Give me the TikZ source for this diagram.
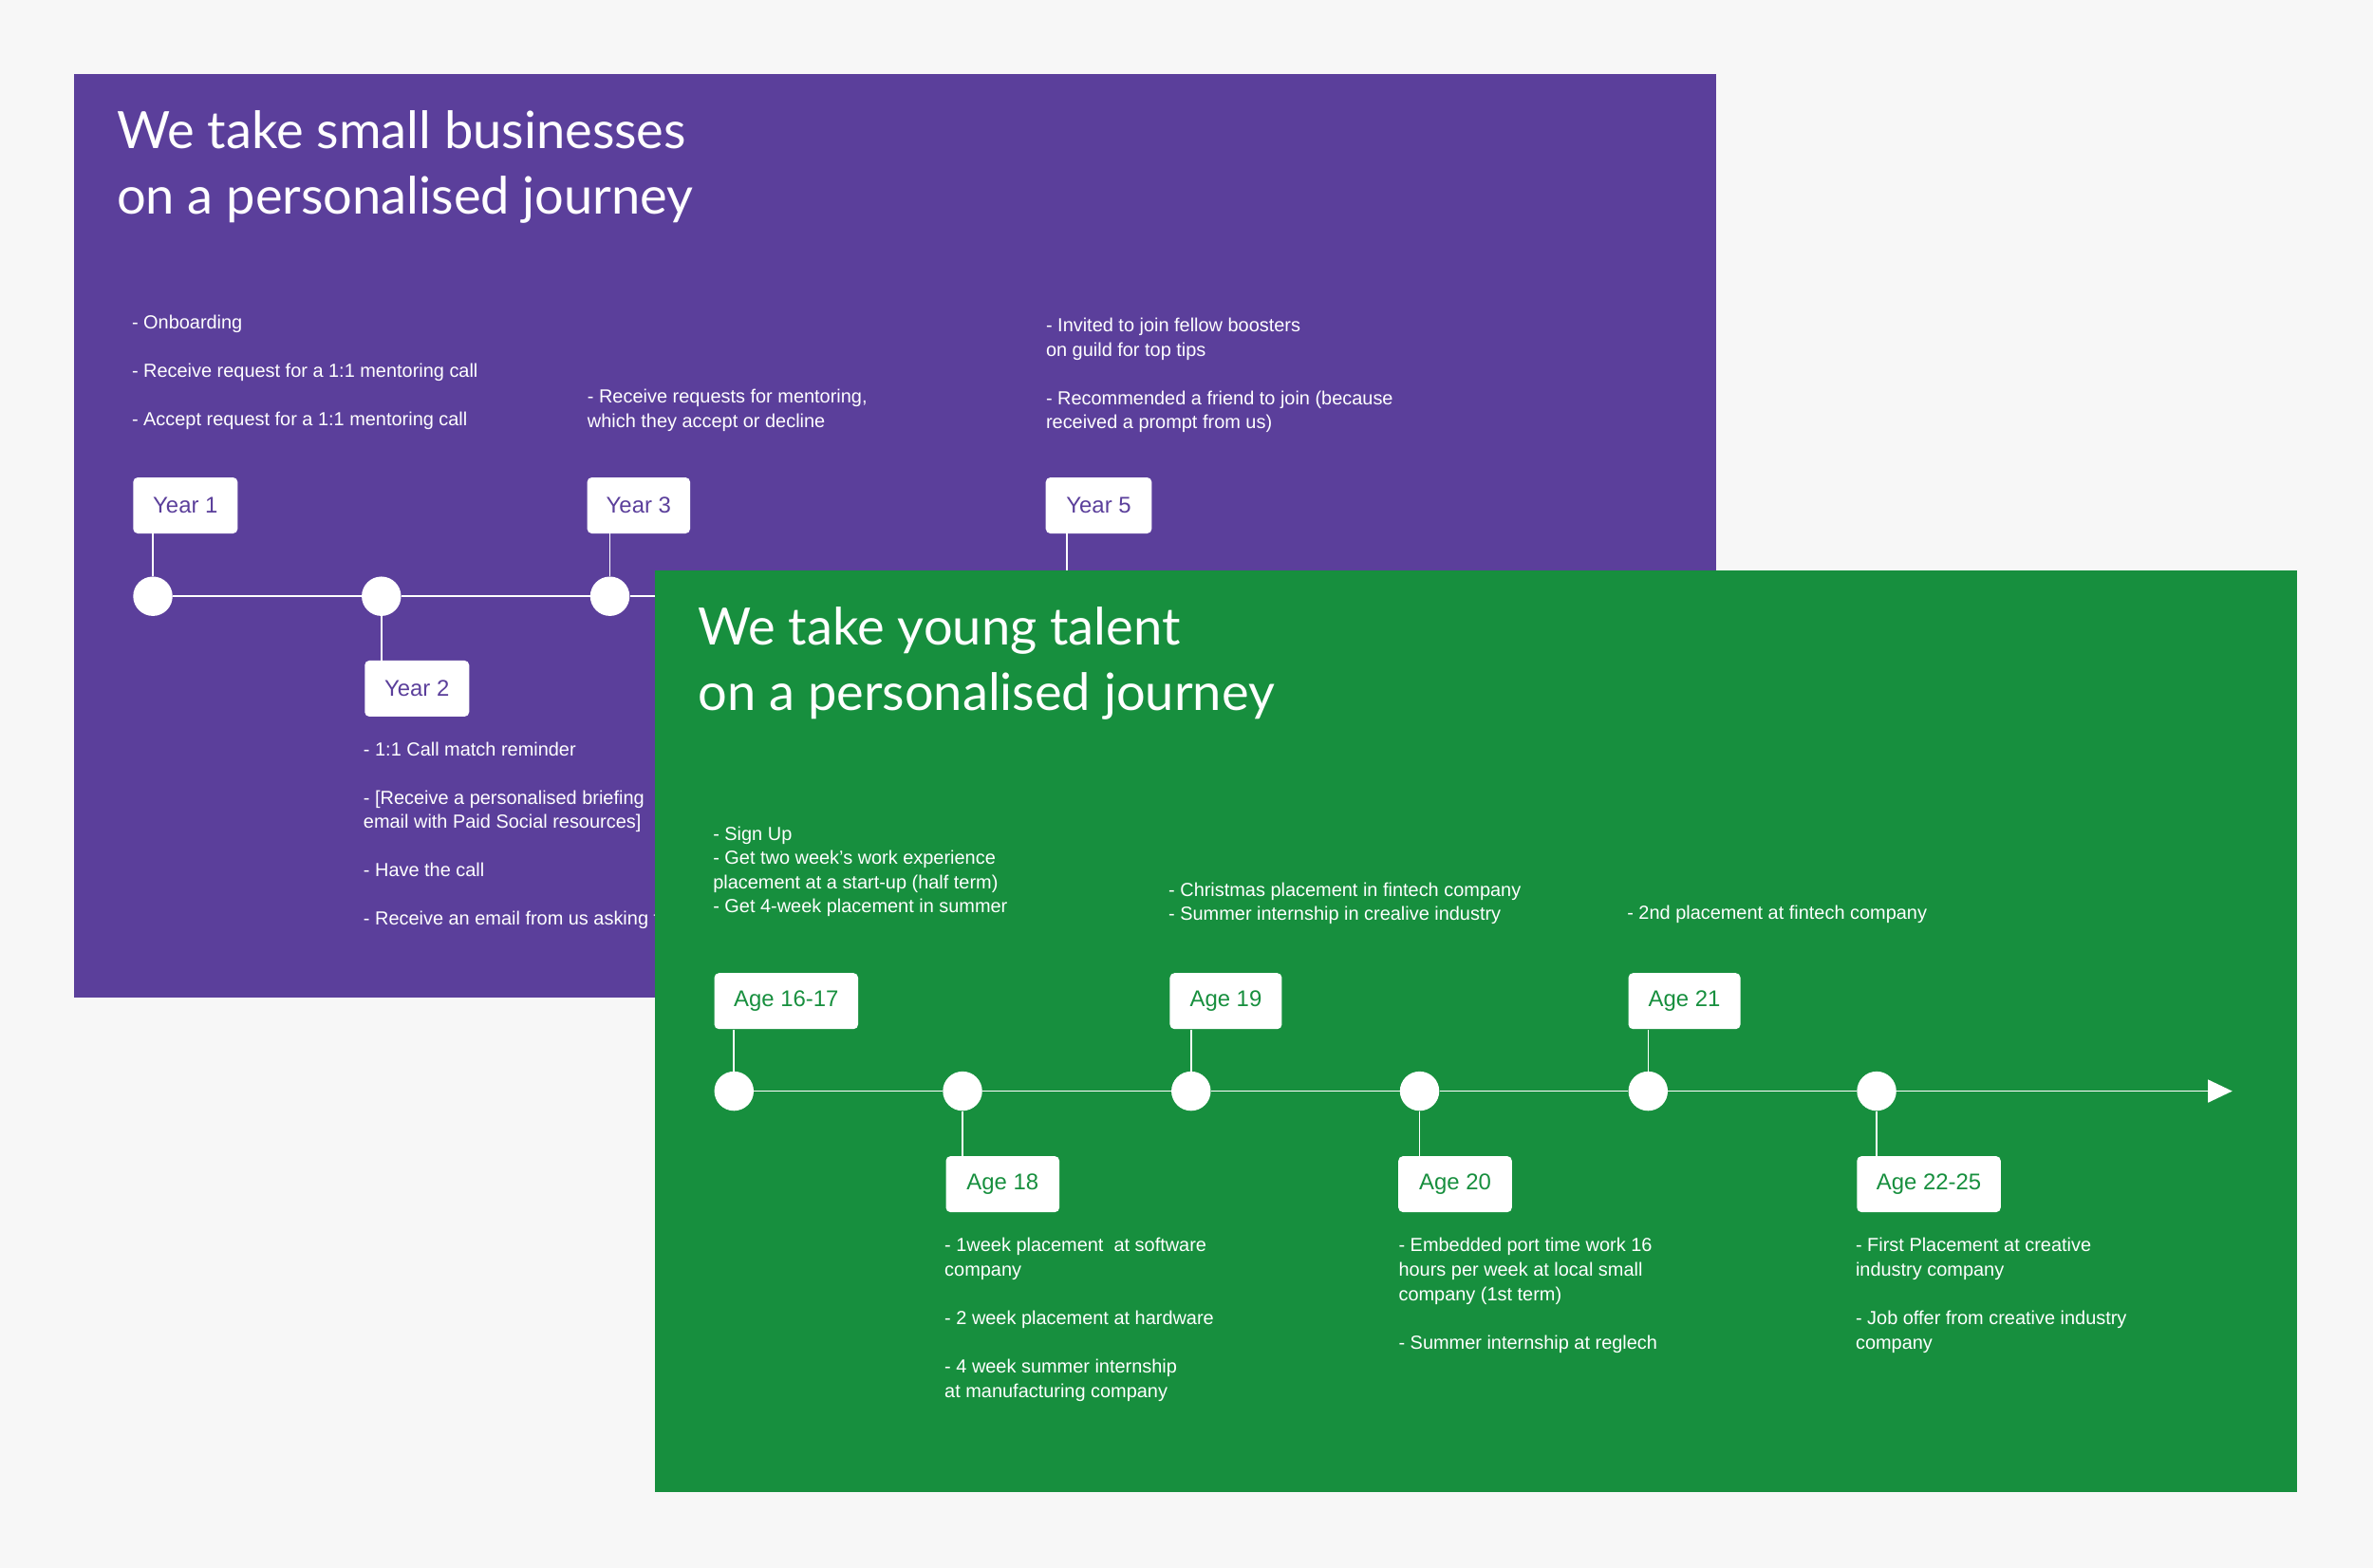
\documentclass[tikz,border=0pt]{standalone}
\usepackage{fontspec}
\setmainfont{Liberation Sans}
\newfontfamily\titlefont{Lato}
\usetikzlibrary{arrows.meta}
\definecolor{bg}{HTML}{F7F7F7}
\definecolor{purp}{HTML}{5B3F9B}
\definecolor{grn}{HTML}{178F3E}
\tikzset{
 dot/.style={circle,fill=white,minimum size=26pt,inner sep=0},
 yearbox/.style={draw=none,fill=white,rounded corners=3pt,minimum height=37pt,inner sep=0,font=\fontsize{15}{18}\selectfont},
 txt/.style={anchor=north west,inner sep=0,text=white,align=left,font=\fontsize{12.5}{16}\selectfont},
 ttl/.style={anchor=north west,inner sep=0,text=white,align=left,font=\titlefont\fontsize{34}{43}\selectfont},
 tl/.style={white,line width=1pt}
}
\begin{document}
\begin{tikzpicture}[x=1pt,y=-1pt]
\fill[bg] (0,0) rectangle (1568,1036);
\useasboundingbox (0,0) rectangle (1568,1036);
% purple panel
\fill[purp] (49,49) rectangle (1134,659);
\node[ttl] (pt) at (77,73) {We take small businesses\\on a personalised journey};
\coordinate (pe) at (700,394);
\node[dot] (p1) at (101,394) {};
\node[dot] (p2) at (252,394) {};
\node[dot] (p3) at (403,394) {};
\node[dot] (p4) at (554,394) {};
\draw[tl] (p1)--(p2) (p2)--(p3) (p3)--(p4) (p4)--(pe);
\node[yearbox,text=purp,minimum width=69pt] (y1) at (122.5,334) {Year 1};
\node[yearbox,text=purp,minimum width=69pt] (y2) at (275.5,455) {Year 2};
\node[yearbox,text=purp,minimum width=68pt] (y3) at (422,334) {Year 3};
\node[yearbox,text=purp,minimum width=70pt] (y5) at (726,334) {Year 5};
\coordinate (y5e) at (705,390);
\draw[tl] (p1) -- (p1|-y1.south);
\draw[tl] (p2) -- (p2|-y2.north);
\draw[tl] (p3) -- (p3|-y3.south);
\draw[tl] (y5e) -- (y5e|-y5.south);
\node[txt] (pa) at (87,208) {- Onboarding\\[16pt]- Receive request for a 1:1 mentoring call\\[16pt]- Accept request for a 1:1 mentoring call};
\node[txt] (pb) at (388,257) {- Receive requests for mentoring,\\which they accept or decline};
\node[txt] (pc) at (691,210) {- Invited to join fellow boosters\\on guild for top tips\\[16pt]- Recommended a friend to join (because\\received a prompt from us)};
\node[txt] (pd) at (240,490) {- 1:1 Call match reminder\\[16pt]- [Receive a personalised briefing\\email with Paid Social resources]\\[16pt]- Have the call\\[16pt]- Receive an email from us asking for feedback};
% green panel
\fill[grn] (433,377) rectangle (1518,986);
\node[ttl] (gt) at (461,401) {We take young talent\\on a personalised journey};
\node[dot] (g1) at (485,721) {};
\node[dot] (g2) at (636,721) {};
\node[dot] (g3) at (787,721) {};
\node[dot] (g4) at (938,721) {};
\node[dot] (g5) at (1089,721) {};
\node[dot] (g6) at (1240,721) {};
\coordinate (ge) at (1475,721);
\draw[tl] (g1)--(g2) (g2)--(g3) (g3)--(g4) (g4)--(g5) (g5)--(g6);
\draw[tl,-{Triangle[length=16pt,width=15pt]}] (g6)--(ge);
\node[yearbox,text=grn,minimum width=95pt] (a1) at (519.5,661.5) {Age 16-17};
\node[yearbox,text=grn,minimum width=75pt] (a2) at (662.5,782.5) {Age 18};
\node[yearbox,text=grn,minimum width=74pt] (a3) at (810,661.5) {Age 19};
\node[yearbox,text=grn,minimum width=75pt] (a4) at (961.5,782.5) {Age 20};
\node[yearbox,text=grn,minimum width=74pt] (a5) at (1113,661.5) {Age 21};
\node[yearbox,text=grn,minimum width=95pt] (a6) at (1274.5,782.5) {Age 22-25};
\draw[tl] (g1) -- (g1|-a1.south);
\draw[tl] (g2) -- (g2|-a2.north);
\draw[tl] (g3) -- (g3|-a3.south);
\draw[tl] (g4) -- (g4|-a4.north);
\draw[tl] (g5) -- (g5|-a5.south);
\draw[tl] (g6) -- (g6|-a6.north);
\node[txt] (ga) at (471,546) {- Sign Up\\- Get two week's work experience\\placement at a start-up (half term)\\- Get 4-week placement in summer};
\node[txt] (gb) at (772,583) {- Christmas placement in fintech company\\- Summer internship in crealive industry};
\node[txt] (gc) at (1075,598) {- 2nd placement at fintech company};
\node[txt] (gd) at (624,818) {- 1week placement\ \ at software\\company\\[16pt]- 2 week placement at hardware\\[16pt]- 4 week summer internship\\at manufacturing company};
\node[txt] (gf) at (924,818) {- Embedded port time work 16\\hours per week at local small\\company (1st term)\\[16pt]- Summer internship at reglech};
\node[txt] (gg) at (1226,818) {- First Placement at creative\\industry company\\[16pt]- Job offer from creative industry\\company};
\end{tikzpicture}
\end{document}
